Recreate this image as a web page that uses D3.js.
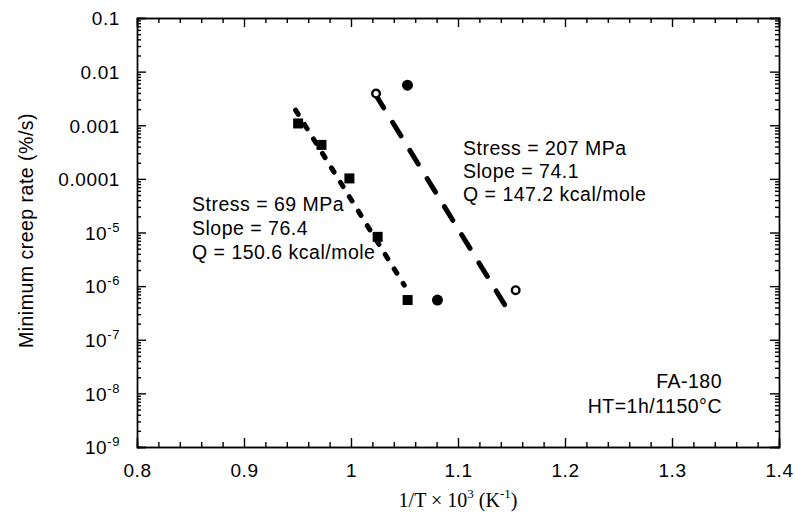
<!DOCTYPE html>
<meta charset="utf-8">
<style>
  body { margin: 0; background: #fff; }
  text { font-family: "Liberation Sans", Arial, sans-serif; fill: #000; }
  .axis path, .axis line { stroke: #000; stroke-width: 1.4; }
  .axis text { font-size: 19px; letter-spacing: 0.6px; }
  .note { font-size: 19.5px; letter-spacing: 0.5px; }
</style>
<body>
<script src="https://d3js.org/d3.v7.min.js"></script>
<script>

// tick values
var xMajor = [0.8, 0.9, 1.0, 1.1, 1.2, 1.3, 1.4];
var xMinor = [0.82, 0.84, 0.86, 0.88, 0.92, 0.94, 0.96, 0.98, 1.02, 1.04, 1.06, 1.08,
              1.12, 1.14, 1.16, 1.18, 1.22, 1.24, 1.26, 1.28, 1.32, 1.34, 1.36, 1.38];
var yMajor = [1e-1, 1e-2, 1e-3, 1e-4, 1e-5, 1e-6, 1e-7, 1e-8, 1e-9];
var yPlainLabels = ["0.1", "0.01", "0.001", "0.0001"];

// 69 MPa, squares
var sq69X = [0.9506, 0.9724, 0.9985, 1.0249, 1.0529];
var sq69Rate = [1.08e-3, 4.3e-4, 1.02e-4, 8.3e-6, 5.5e-7];
// 207 MPa, open and filled circles
var open207X = [1.0234, 1.1539];
var open207Rate = [3.9e-3, 8.4e-7];
var dot207X = [1.0528, 1.0808];
var dot207Rate = [5.6e-3, 5.5e-7];
// fitted lines (end points)
var fit69X = [0.9482, 1.0498];
var fit69Rate = [1.92e-3, 1.04e-6];
var fit207X = [1.0227, 1.1495];
var fit207Rate = [3.8e-3, 2.9e-7];

var notes69 = ["Stress = 69 MPa", "Slope = 76.4", "Q = 150.6 kcal/mole"];
var notes207 = ["Stress = 207 MPa", "Slope = 74.1", "Q = 147.2 kcal/mole"];
var alloy = ["FA-180", "HT=1h/1150°C"];

var margin = {top: 18, right: 16, bottom: 79, left: 137},
    width = 795 - margin.left - margin.right,
    height = 526 - margin.top - margin.bottom;

var x = d3.scaleLinear().domain([0.8, 1.4]).range([0, width]);
var y = d3.scaleLog().domain([1e-9, 1e-1]).range([height, 0]);

var svg = d3.select("body").append("svg")
    .attr("width", 795)
    .attr("height", 526)
  .append("g")
    .attr("transform", "translate(" + margin.left + "," + margin.top + ")");

var yMinor = y.ticks().filter(function(d) {
  return Math.abs(Math.log10(d) - Math.round(Math.log10(d))) > 1e-6;
});

// minor ticks on all four sides
svg.append("g").attr("class", "axis").attr("transform", "translate(0," + height + ")")
    .call(d3.axisBottom(x).tickValues(xMinor).tickSize(-5).tickFormat(""));
svg.append("g").attr("class", "axis")
    .call(d3.axisTop(x).tickValues(xMinor).tickSize(-5).tickFormat(""));
svg.append("g").attr("class", "axis")
    .call(d3.axisLeft(y).tickValues(yMinor).tickSize(-4).tickFormat(""));
svg.append("g").attr("class", "axis").attr("transform", "translate(" + width + ",0)")
    .call(d3.axisRight(y).tickValues(yMinor).tickSize(-4).tickFormat(""));

// major ticks and labels
svg.append("g").attr("class", "axis").attr("transform", "translate(0," + height + ")")
    .call(d3.axisBottom(x).tickValues(xMajor).tickSize(-9).tickPadding(18)
      .tickFormat(function(d) { return d === 1 ? "1" : d3.format(".1f")(d); }))
    .selectAll("text").attr("dy", "0.71em").attr("y", 17);
svg.append("g").attr("class", "axis")
    .call(d3.axisTop(x).tickValues(xMajor).tickSize(-9).tickFormat(""));
svg.append("g").attr("class", "axis").attr("transform", "translate(" + width + ",0)")
    .call(d3.axisRight(y).tickValues(yMajor).tickSize(-9).tickFormat(""));

var yAxis = svg.append("g").attr("class", "axis")
    .call(d3.axisLeft(y).tickValues(yMajor).tickSize(-9).tickPadding(17).tickFormat(""));

yAxis.selectAll(".tick").each(function(d, i) {
  var t = d3.select(this).append("text")
      .attr("x", -17)
      .attr("dy", "0.36em")
      .attr("text-anchor", "end");
  if (i < yPlainLabels.length) {
    t.text(yPlainLabels[i]);
  } else {
    t.append("tspan").text("10");
    t.append("tspan").attr("dy", "-8").style("font-size", "13px")
        .text("-" + Math.round(-Math.log10(d)));
  }
});

svg.selectAll(".axis .domain").attr("stroke-width", 1.6);

// axis titles
svg.append("text")
    .attr("transform", "translate(-104," + (height / 2 - 2) + ") rotate(-90)")
    .attr("text-anchor", "middle")
    .style("font-size", "19.5px")
    .style("letter-spacing", "0.5px")
    .text("Minimum creep rate (%/s)");

var xt = svg.append("text")
    .attr("x", width / 2)
    .attr("y", height + 60)
    .attr("text-anchor", "middle")
    .style("font-family", "'Liberation Serif', 'Times New Roman', serif")
    .style("font-size", "20px");
xt.append("tspan").text("1/T × 10");
xt.append("tspan").attr("dy", "-9").style("font-size", "13px").text("3");
xt.append("tspan").attr("dy", "9").text(" (K");
xt.append("tspan").attr("dy", "-9").style("font-size", "13px").text("-1");
xt.append("tspan").attr("dy", "9").text(")");

// fitted dashed lines
var line = d3.line()
    .x(function(d) { return x(d[0]); })
    .y(function(d) { return y(d[1]); });

svg.append("path")
    .datum(d3.zip(fit69X, fit69Rate))
    .attr("d", line)
    .attr("fill", "none")
    .attr("stroke", "#000")
    .attr("stroke-width", 5)
    .attr("stroke-linecap", "round")
    .attr("stroke-dasharray", "5,12");

svg.append("path")
    .datum(d3.zip(fit207X, fit207Rate))
    .attr("d", line)
    .attr("fill", "none")
    .attr("stroke", "#000")
    .attr("stroke-width", 5)
    .attr("stroke-linecap", "round")
    .attr("stroke-dasharray", "16,17");

// markers
svg.selectAll(".sq")
    .data(d3.zip(sq69X, sq69Rate))
  .enter().append("rect")
    .attr("x", function(d) { return x(d[0]) - 5; })
    .attr("y", function(d) { return y(d[1]) - 5; })
    .attr("width", 10)
    .attr("height", 10)
    .attr("fill", "#000");

svg.selectAll(".dot")
    .data(d3.zip(dot207X, dot207Rate))
  .enter().append("circle")
    .attr("cx", function(d) { return x(d[0]); })
    .attr("cy", function(d) { return y(d[1]); })
    .attr("r", 5.5)
    .attr("fill", "#000");

svg.selectAll(".open")
    .data(d3.zip(open207X, open207Rate))
  .enter().append("circle")
    .attr("cx", function(d) { return x(d[0]); })
    .attr("cy", function(d) { return y(d[1]); })
    .attr("r", 3.8)
    .attr("fill", "#fff")
    .attr("stroke", "#000")
    .attr("stroke-width", 2.4);

// annotations
svg.append("g").selectAll("text")
    .data(notes69)
  .enter().append("text")
    .attr("class", "note")
    .attr("x", 55)
    .attr("y", function(d, i) { return 193 + i * 24; })
    .text(function(d) { return d; });

svg.append("g").selectAll("text")
    .data(notes207)
  .enter().append("text")
    .attr("class", "note")
    .attr("x", 326)
    .attr("y", function(d, i) { return 137 + i * 23; })
    .text(function(d) { return d; });

svg.append("g").selectAll("text")
    .data(alloy)
  .enter().append("text")
    .attr("class", "note")
    .attr("x", 585)
    .attr("y", function(d, i) { return 370 + i * 25; })
    .attr("text-anchor", "end")
    .text(function(d) { return d; });

</script>
